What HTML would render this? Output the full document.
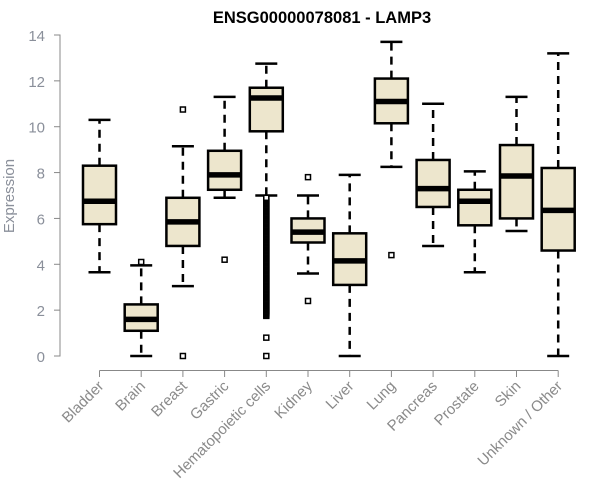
<!DOCTYPE html>
<html><head><meta charset="utf-8"><style>
body{margin:0;background:#fff;}
svg{display:block;font-family:"Liberation Sans",Arial,sans-serif;}
</style></head><body>
<svg id="chart" width="600" height="500">
<text x="322" y="23" text-anchor="middle" font-weight="bold" font-size="16.5" fill="#000">ENSG00000078081 - LAMP3</text>
<text transform="translate(14,196) rotate(-90)" text-anchor="middle" font-size="15" fill="#8a8f9a">Expression</text>
<g id="axes"></g><g id="marks"></g>
</svg>
<script>
const categories=["Bladder","Brain","Breast","Gastric","Hematopoietic cells","Kidney","Liver","Lung","Pancreas","Prostate","Skin","Unknown / Other"];
const whiskerLow=[3.65,0,3.05,6.9,7.0,3.6,0,8.25,4.8,3.65,5.45,0];
const whiskerHigh=[10.3,3.95,9.15,11.3,12.75,7.0,7.9,13.7,11.0,8.05,11.3,13.2];
const q1=[5.75,1.1,4.8,7.25,9.8,4.95,3.1,10.15,6.5,5.7,6.0,4.6];
const q3=[8.3,2.25,6.9,8.95,11.7,6.0,5.35,12.1,8.55,7.25,9.2,8.2];
const medians=[6.75,1.6,5.85,7.9,11.25,5.4,4.15,11.1,7.3,6.75,7.85,6.35];
const outliers=[[],[4.1],[0,10.75],[4.2],
 [0,0.8,1.75,1.8,1.85,1.9,1.95,2.0,2.05,2.1,2.15,2.2,2.25,2.3,2.35,2.4,2.45,2.5,2.55,2.6,2.65,2.7,2.75,2.8,2.85,2.9,2.95,3.0,3.05,3.1,3.15,3.2,3.25,3.3,3.35,3.4,3.45,3.5,3.55,3.6,3.65,3.7,3.75,3.8,3.85,3.9,3.95,4.0,4.05,4.1,4.15,4.2,4.25,4.3,4.35,4.4,4.45,4.5,4.55,4.6,4.65,4.7,4.75,4.8,4.85,4.9,4.95,5.0,5.05,5.1,5.15,5.2,5.25,5.3,5.35,5.4,5.45,5.5,5.55,5.6,5.65,5.7,5.75,5.8,5.85,5.9,5.95,6.0,6.05,6.1,6.15,6.2,6.25,6.3,6.35,6.4,6.45,6.5,6.55,6.6,6.65,6.7,6.75,6.8,6.85,6.9],
 [7.8,2.4],[],[4.4],[],[],[],[]];
const yTicks=[0,2,4,6,8,10,12,14];
const NS="http://www.w3.org/2000/svg";
const y=v=>356-v*(321/14);
const x=i=>99.5+i*41.7;
const axes=document.getElementById('axes'),marks=document.getElementById('marks');
function mk(tag,attrs,parent){const e=document.createElementNS(NS,tag);for(const k in attrs)e.setAttribute(k,attrs[k]);parent.appendChild(e);return e;}
let ya=mk('path',{d:`M54 ${y(0)}H60V${y(14)}H54`,stroke:'#888',fill:'none','stroke-width':1},axes);


yTicks.forEach(t=>{
 const l=mk('line',{x1:54,x2:60,y1:y(t),y2:y(t),stroke:'#888'},axes);
 
 
 const tx=mk('text',{x:45,y:y(t)+6,'text-anchor':'end','font-size':15,fill:'#8a8f9a'},axes);
 tx.textContent=t;
 
 
});
let xa=mk('path',{d:`M${x(0)} 370.5H${x(11)}`,stroke:'#888','stroke-width':1},axes);


categories.forEach((c,i)=>{
 const X=x(i);
 const t=mk('line',{x1:X,x2:X,y1:370.5,y2:377,stroke:'#888'},axes);
 
 
 const tx=mk('text',{x:X+5,y:387,'text-anchor':'end','font-size':15,fill:'#8a8a8a',transform:`rotate(-45 ${X+5} 387)`},axes);
 tx.textContent=c;
 
 
 const g=mk('g',{},marks);
 
 
 mk('line',{x1:X,x2:X,y1:y(q3[i]),y2:y(whiskerHigh[i]),stroke:'#000','stroke-width':2.5,'stroke-dasharray':'8,6'},g);
 mk('line',{x1:X,x2:X,y1:y(q1[i]),y2:y(whiskerLow[i]),stroke:'#000','stroke-width':2.5,'stroke-dasharray':'8,6'},g);
 mk('line',{x1:X-11,x2:X+11,y1:y(whiskerHigh[i]),y2:y(whiskerHigh[i]),stroke:'#000','stroke-width':2.5},g);
 mk('line',{x1:X-11,x2:X+11,y1:y(whiskerLow[i]),y2:y(whiskerLow[i]),stroke:'#000','stroke-width':2.5},g);
 mk('rect',{x:X-16.5,y:y(q3[i]),width:33,height:y(q1[i])-y(q3[i]),fill:'#ede6cd',stroke:'#000','stroke-width':2.5},g);
 mk('line',{x1:X-16.5,x2:X+16.5,y1:y(medians[i]),y2:y(medians[i]),stroke:'#000','stroke-width':5.5},g);
 outliers[i].forEach(v=>{mk('rect',{x:X-2.5,y:y(v)-2.5,width:5,height:5,fill:'#fff',stroke:'#000','stroke-width':1.5},g);});
});
</script>
</body></html>
